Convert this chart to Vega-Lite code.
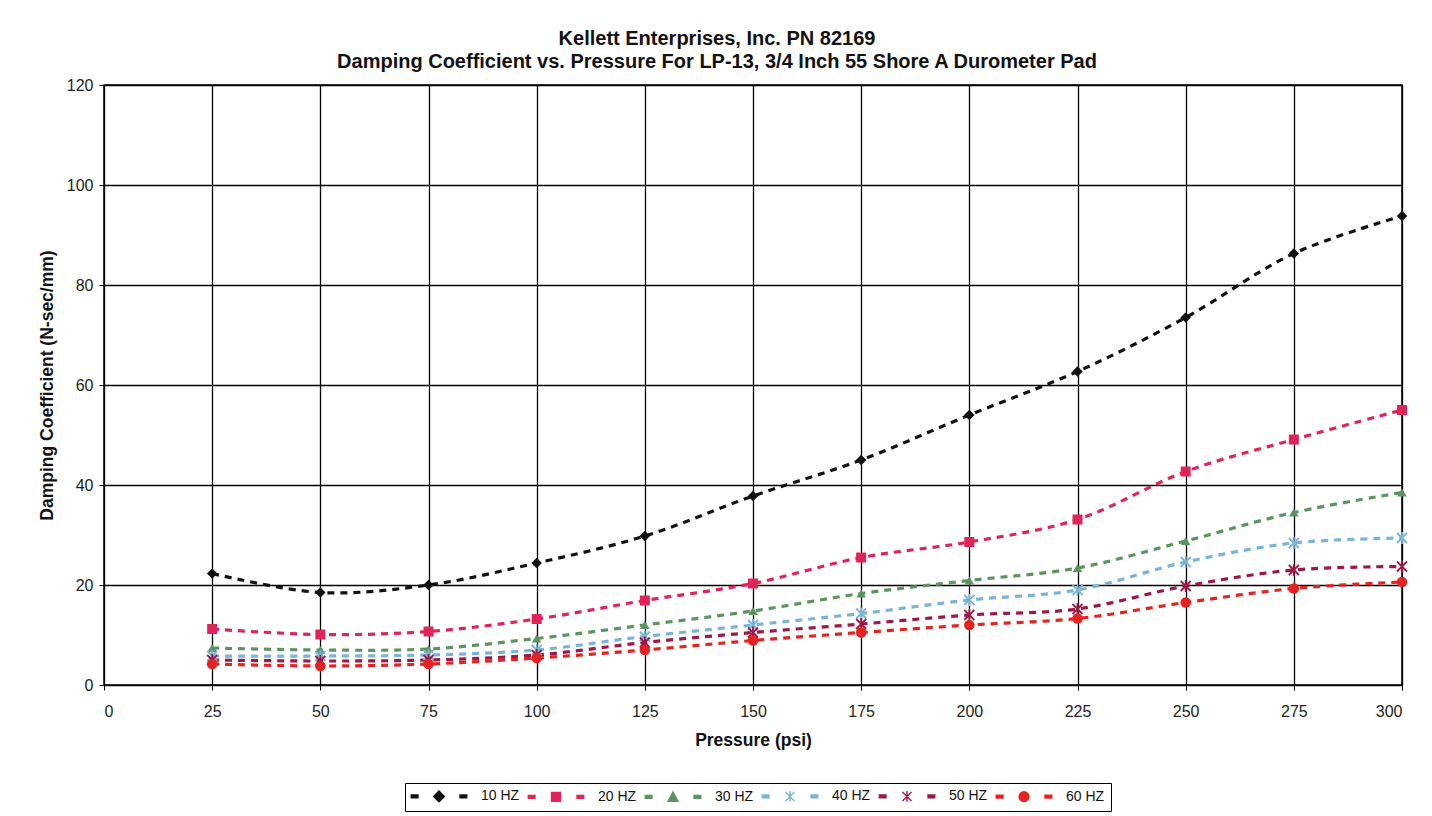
{
  "$schema": "https://vega.github.io/schema/vega-lite/v6.json",
  "width": 1298,
  "height": 600,
  "autosize": {"type": "none"},
  "padding": {"left": 104, "top": 85, "right": 30, "bottom": 131},
  "background": "white",
  "title": {
    "text": ["Kellett Enterprises, Inc. PN 82169", "Damping Coefficient vs. Pressure For LP-13, 3/4 Inch 55 Shore A Durometer Pad"],
    "font": "Liberation Sans",
    "fontSize": 20,
    "fontWeight": "bold",
    "color": "#111111",
    "anchor": "middle",
    "dx": -36,
    "offset": 5,
    "lineHeight": 23
  },
  "config": {
    "font": "Liberation Sans",
    "view": {"stroke": "black", "strokeWidth": 1.5},
    "axis": {
      "grid": true,
      "gridColor": "#000000",
      "gridWidth": 1.3,
      "gridOpacity": 1,
      "domainColor": "#000000",
      "tickColor": "#000000",
      "tickSize": 5,
      "labelFont": "Liberation Sans",
      "labelFontSize": 16,
      "labelColor": "#222222",
      "titleFont": "Liberation Sans",
      "titleFontSize": 17.5,
      "titleFontWeight": "bold",
      "titleColor": "#111111"
    }
  },
  "data": {
    "values": [
      {"p": 25, "s": "10 HZ", "v": 22.3}, {"p": 50, "s": "10 HZ", "v": 18.5}, {"p": 75, "s": "10 HZ", "v": 20.0}, {"p": 100, "s": "10 HZ", "v": 24.4},
      {"p": 125, "s": "10 HZ", "v": 29.8}, {"p": 150, "s": "10 HZ", "v": 37.8}, {"p": 175, "s": "10 HZ", "v": 45.0}, {"p": 200, "s": "10 HZ", "v": 54.0},
      {"p": 225, "s": "10 HZ", "v": 62.7}, {"p": 250, "s": "10 HZ", "v": 73.5}, {"p": 275, "s": "10 HZ", "v": 86.3}, {"p": 300, "s": "10 HZ", "v": 93.8},
      {"p": 25, "s": "20 HZ", "v": 11.2}, {"p": 50, "s": "20 HZ", "v": 10.1}, {"p": 75, "s": "20 HZ", "v": 10.7}, {"p": 100, "s": "20 HZ", "v": 13.2},
      {"p": 125, "s": "20 HZ", "v": 16.9}, {"p": 150, "s": "20 HZ", "v": 20.3}, {"p": 175, "s": "20 HZ", "v": 25.5}, {"p": 200, "s": "20 HZ", "v": 28.6},
      {"p": 225, "s": "20 HZ", "v": 33.1}, {"p": 250, "s": "20 HZ", "v": 42.7}, {"p": 275, "s": "20 HZ", "v": 49.1}, {"p": 300, "s": "20 HZ", "v": 55.0},
      {"p": 25, "s": "30 HZ", "v": 7.4}, {"p": 50, "s": "30 HZ", "v": 7.0}, {"p": 75, "s": "30 HZ", "v": 7.2}, {"p": 100, "s": "30 HZ", "v": 9.3},
      {"p": 125, "s": "30 HZ", "v": 12.0}, {"p": 150, "s": "30 HZ", "v": 14.8}, {"p": 175, "s": "30 HZ", "v": 18.3}, {"p": 200, "s": "30 HZ", "v": 20.9},
      {"p": 225, "s": "30 HZ", "v": 23.4}, {"p": 250, "s": "30 HZ", "v": 28.8}, {"p": 275, "s": "30 HZ", "v": 34.5}, {"p": 300, "s": "30 HZ", "v": 38.5},
      {"p": 25, "s": "40 HZ", "v": 5.8}, {"p": 50, "s": "40 HZ", "v": 5.8}, {"p": 75, "s": "40 HZ", "v": 6.0}, {"p": 100, "s": "40 HZ", "v": 7.0},
      {"p": 125, "s": "40 HZ", "v": 9.7}, {"p": 150, "s": "40 HZ", "v": 12.0}, {"p": 175, "s": "40 HZ", "v": 14.3}, {"p": 200, "s": "40 HZ", "v": 17.0},
      {"p": 225, "s": "40 HZ", "v": 19.0}, {"p": 250, "s": "40 HZ", "v": 24.6}, {"p": 275, "s": "40 HZ", "v": 28.4}, {"p": 300, "s": "40 HZ", "v": 29.4},
      {"p": 25, "s": "50 HZ", "v": 5.0}, {"p": 50, "s": "50 HZ", "v": 4.8}, {"p": 75, "s": "50 HZ", "v": 5.0}, {"p": 100, "s": "50 HZ", "v": 6.0},
      {"p": 125, "s": "50 HZ", "v": 8.5}, {"p": 150, "s": "50 HZ", "v": 10.5}, {"p": 175, "s": "50 HZ", "v": 12.2}, {"p": 200, "s": "50 HZ", "v": 14.0},
      {"p": 225, "s": "50 HZ", "v": 15.2}, {"p": 250, "s": "50 HZ", "v": 19.8}, {"p": 275, "s": "50 HZ", "v": 23.0}, {"p": 300, "s": "50 HZ", "v": 23.7},
      {"p": 25, "s": "60 HZ", "v": 4.2}, {"p": 50, "s": "60 HZ", "v": 3.8}, {"p": 75, "s": "60 HZ", "v": 4.2}, {"p": 100, "s": "60 HZ", "v": 5.4},
      {"p": 125, "s": "60 HZ", "v": 7.0}, {"p": 150, "s": "60 HZ", "v": 8.9}, {"p": 175, "s": "60 HZ", "v": 10.5}, {"p": 200, "s": "60 HZ", "v": 12.0},
      {"p": 225, "s": "60 HZ", "v": 13.3}, {"p": 250, "s": "60 HZ", "v": 16.5}, {"p": 275, "s": "60 HZ", "v": 19.3}, {"p": 300, "s": "60 HZ", "v": 20.6}
    ]
  },
  "encoding": {
    "x": {
      "field": "p",
      "type": "quantitative",
      "scale": {"domain": [0, 300], "nice": false},
      "axis": {
        "values": [0, 25, 50, 75, 100, 125, 150, 175, 200, 225, 250, 275, 300],
        "labelPadding": 13,
        "title": "Pressure (psi)",
        "titlePadding": 12
      }
    },
    "y": {
      "field": "v",
      "type": "quantitative",
      "scale": {"domain": [0, 120], "nice": false},
      "axis": {
        "values": [0, 20, 40, 60, 80, 100, 120],
        "labelPadding": 6,
        "title": "Damping Coefficient (N-sec/mm)",
        "titlePadding": 10
      }
    },
    "color": {
      "field": "s",
      "type": "nominal",
      "scale": {
        "domain": ["10 HZ", "20 HZ", "30 HZ", "40 HZ", "50 HZ", "60 HZ"],
        "range": ["#111111", "#e0245a", "#5b9460", "#79b4d6", "#9e1846", "#e5221f"]
      },
      "legend": {
        "title": null,
        "orient": "none",
        "legendX": 301,
        "legendY": 698,
        "direction": "horizontal",
        "strokeColor": "#000000",
        "padding": 6,
        "symbolSize": 80,
        "symbolOffset": 21,
        "symbolStrokeWidth": 1.4,
        "labelFontSize": 14,
        "labelColor": "#111111",
        "labelOffset": 35,
        "columnPadding": 5,
        "encode": {
          "symbols": {
            "update": {
              "fill": {"scale": "color", "field": "value"},
              "stroke": {"scale": "color", "field": "value"},
              "strokeDash": {"value": []},
              "shape": {
                "signal": "datum.value === '10 HZ' ? 'M-6.2,-0.3H-4.7V0.3H-6.2Z M4.7,-0.3H6.2V0.3H4.7Z M0,-1.2L1.2,0L0,1.2L-1.2,0Z' : datum.value === '20 HZ' ? 'M-6.2,-0.3H-4.7V0.3H-6.2Z M4.7,-0.3H6.2V0.3H4.7Z M-1,-1H1V1H-1Z' : datum.value === '30 HZ' ? 'M-6.2,-0.3H-4.7V0.3H-6.2Z M4.7,-0.3H6.2V0.3H4.7Z M0,-1.1L1.1,1H-1.1Z' : datum.value === '60 HZ' ? 'M-6.2,-0.3H-4.7V0.3H-6.2Z M4.7,-0.3H6.2V0.3H4.7Z M-1.1,0A1.1,1.1 0 1,0 1.1,0A1.1,1.1 0 1,0 -1.1,0Z' : 'M-6.2,-0.3H-4.7V0.3H-6.2Z M4.7,-0.3H6.2V0.3H4.7Z M-1,-1L1,1M-1,1L1,-1M0,-1.2V1.2'"
              }
            }
          }
        }
      }
    }
  },
  "layer": [
    {
      "mark": {"type": "line", "interpolate": "catmull-rom", "strokeWidth": 3.2, "strokeDash": [7, 6]},
      "encoding": {"detail": {"field": "s", "type": "nominal"}}
    },
    {
      "transform": [{"filter": {"field": "s", "equal": "10 HZ"}}],
      "mark": {"type": "point", "shape": "diamond", "filled": true, "opacity": 1, "size": 110}
    },
    {
      "transform": [{"filter": {"field": "s", "equal": "20 HZ"}}],
      "mark": {"type": "point", "shape": "square", "filled": true, "opacity": 1, "size": 100}
    },
    {
      "transform": [{"filter": {"field": "s", "equal": "30 HZ"}}],
      "mark": {"type": "point", "shape": "triangle-up", "filled": true, "opacity": 1, "size": 90}
    },
    {
      "transform": [{"filter": {"field": "s", "oneOf": ["40 HZ", "50 HZ"]}}],
      "mark": {"type": "point", "shape": "M-1,-1L1,1M-1,1L1,-1M0,-1.2V1.2", "filled": false, "opacity": 1, "size": 100, "strokeWidth": 1.8}
    },
    {
      "transform": [{"filter": {"field": "s", "equal": "60 HZ"}}],
      "mark": {"type": "point", "shape": "circle", "filled": true, "opacity": 1, "size": 110}
    }
  ]
}
